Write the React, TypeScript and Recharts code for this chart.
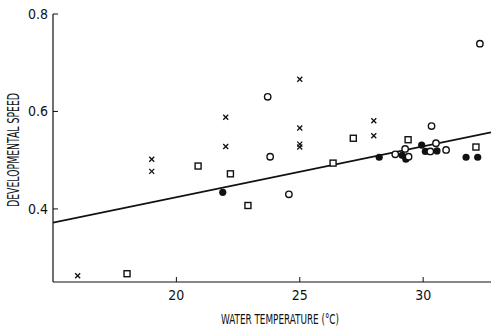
import React from 'react';
import { ComposedChart, Scatter, XAxis, YAxis, Label } from 'recharts';

// Developmental speed vs. water temperature, four groups of observations
const crossPoints = [
  { x: 16.0, y: 0.263 },
  { x: 19.0, y: 0.502 },
  { x: 19.0, y: 0.477 },
  { x: 22.0, y: 0.588 },
  { x: 22.0, y: 0.528 },
  { x: 25.0, y: 0.666 },
  { x: 25.0, y: 0.566 },
  { x: 25.0, y: 0.533 },
  { x: 25.0, y: 0.527 },
  { x: 28.0, y: 0.581 },
  { x: 28.0, y: 0.55 },
];

const openCirclePoints = [
  { x: 23.7, y: 0.63 },
  { x: 23.8, y: 0.507 },
  { x: 24.56, y: 0.43 },
  { x: 28.87, y: 0.512 },
  { x: 29.27, y: 0.523 },
  { x: 29.41, y: 0.507 },
  { x: 30.29, y: 0.518 },
  { x: 30.34, y: 0.57 },
  { x: 30.52, y: 0.535 },
  { x: 30.93, y: 0.521 },
  { x: 32.3, y: 0.739 },
];

const filledCirclePoints = [
  { x: 21.88, y: 0.434 },
  { x: 28.22, y: 0.506 },
  { x: 29.15, y: 0.51 },
  { x: 29.3, y: 0.502 },
  { x: 29.94, y: 0.531 },
  { x: 30.09, y: 0.518 },
  { x: 30.56, y: 0.519 },
  { x: 31.74, y: 0.506 },
  { x: 32.21, y: 0.506 },
];

const squarePoints = [
  { x: 18.0, y: 0.267 },
  { x: 20.88, y: 0.488 },
  { x: 22.19, y: 0.472 },
  { x: 22.9, y: 0.407 },
  { x: 26.35, y: 0.494 },
  { x: 27.17, y: 0.545 },
  { x: 29.39, y: 0.542 },
  { x: 32.14, y: 0.527 },
];

// Fitted regression line end points
const fitLine = [
  { x: 15, y: 0.372 },
  { x: 32.75, y: 0.557 },
];

const xTicks = [20, 25, 30];
const yTicks = [0.4, 0.6, 0.8];

const FONT = "'Liberation Sans Narrow', 'DejaVu Sans Condensed', sans-serif";
const INK = '#111';

const CrossShape = (p: any) => {
  const { cx, cy } = p;
  const s = 2.5;
  return (
    <g stroke={INK} strokeWidth={1.3}>
      <line x1={cx - s} y1={cy - s} x2={cx + s} y2={cy + s} />
      <line x1={cx - s} y1={cy + s} x2={cx + s} y2={cy - s} />
    </g>
  );
};

const OpenCircleShape = (p: any) => (
  <circle cx={p.cx} cy={p.cy} r={3.2} fill="#fff" stroke={INK} strokeWidth={1.4} />
);

const FilledCircleShape = (p: any) => (
  <circle cx={p.cx} cy={p.cy} r={3.6} fill={INK} stroke="none" />
);

const SquareShape = (p: any) => (
  <rect x={p.cx - 3} y={p.cy - 3} width={6} height={6} fill="#fff" stroke={INK} strokeWidth={1.4} />
);

const NoShape = () => <g />;

const XTitle = (props: any) => {
  const vb = props.viewBox || {};
  const cx = vb.x + vb.width / 2 + 8;
  const y = vb.y + 42;
  return (
    <text
      x={cx}
      y={y}
      textAnchor="middle"
      fontFamily={FONT}
      fontSize={14}
      fill={INK}
      textLength={118}
      lengthAdjust="spacingAndGlyphs"
    >
      WATER TEMPERATURE (°C)
    </text>
  );
};

const YTitle = (props: any) => {
  const vb = props.viewBox || {};
  const cy = vb.y + vb.height / 2 + 2;
  const x = 19;
  return (
    <text
      x={x}
      y={cy}
      transform={`rotate(-90, ${x}, ${cy})`}
      textAnchor="middle"
      fontFamily={FONT}
      fontSize={15}
      fill={INK}
      textLength={114}
      lengthAdjust="spacingAndGlyphs"
    >
      DEVELOPMENTAL SPEED
    </text>
  );
};

export default function App() {
  return (
    <div style={{ position: 'absolute', left: 0, top: 0, background: '#fff' }}>
      <ComposedChart
        width={491}
        height={327}
        margin={{ top: 14, right: 0, bottom: 0, left: 0 }}
      >
        <XAxis
          type="number"
          dataKey="x"
          domain={[15, 32.75]}
          ticks={xTicks}
          allowDataOverflow
          height={45}
          tickSize={-5}
          tickMargin={13}
          axisLine={{ stroke: INK, strokeWidth: 1.2 }}
          tickLine={{ stroke: INK, strokeWidth: 1 }}
          tick={{ fill: INK, fontSize: 14, fontFamily: FONT }}
        >
          <Label content={<XTitle />} />
        </XAxis>
        <YAxis
          type="number"
          dataKey="y"
          domain={[0.25, 0.8]}
          ticks={yTicks}
          allowDataOverflow
          width={53}
          tickSize={-5}
          tickMargin={10}
          tickFormatter={(v: number) => v.toFixed(1)}
          axisLine={{ stroke: INK, strokeWidth: 1.2 }}
          tickLine={{ stroke: INK, strokeWidth: 1 }}
          tick={{ fill: INK, fontSize: 14, fontFamily: FONT }}
        >
          <Label content={<YTitle />} />
        </YAxis>
        <Scatter
          data={fitLine}
          line={{ stroke: INK, strokeWidth: 1.8 }}
          shape={<NoShape />}
          isAnimationActive={false}
        />
        <Scatter data={crossPoints} shape={<CrossShape />} isAnimationActive={false} />
        <Scatter data={squarePoints} shape={<SquareShape />} isAnimationActive={false} />
        <Scatter data={filledCirclePoints} shape={<FilledCircleShape />} isAnimationActive={false} />
        <Scatter data={openCirclePoints} shape={<OpenCircleShape />} isAnimationActive={false} />
      </ComposedChart>
    </div>
  );
}
